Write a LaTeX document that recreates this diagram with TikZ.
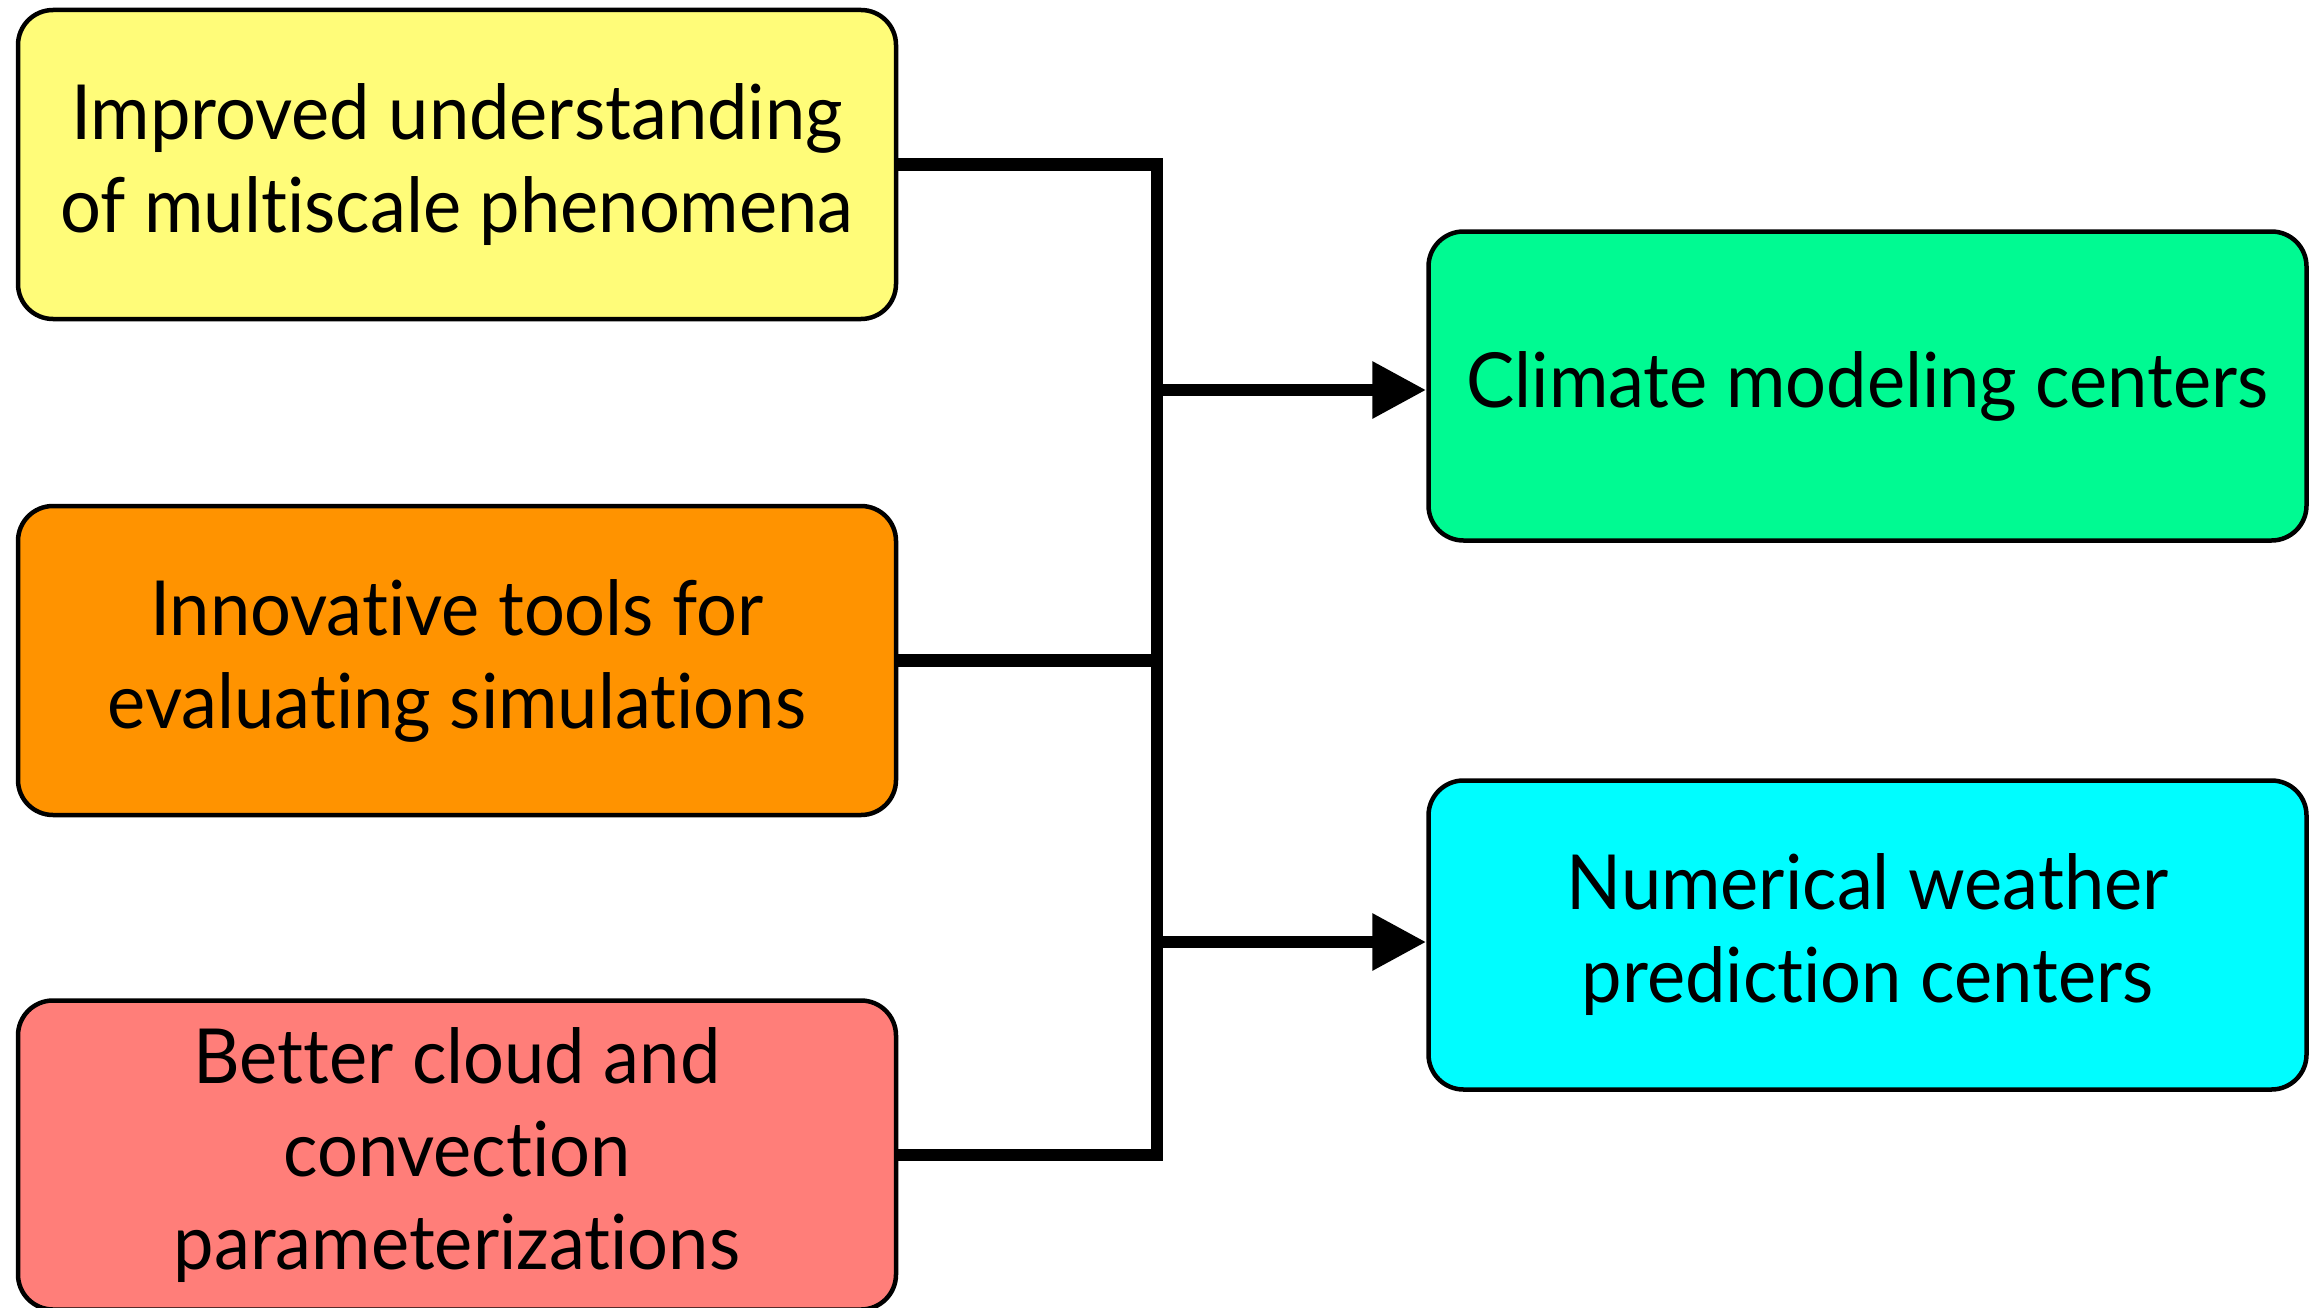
\documentclass[tikz,border=0pt]{standalone}
\usepackage{fontspec}
\setmainfont[Ligatures=NoCommon, FakeStretch=0.95]{Lato}
\usetikzlibrary{arrows.meta}
\definecolor{banana}{HTML}{FFFC79}
\definecolor{tangerine}{HTML}{FF9300}
\definecolor{salmon}{HTML}{FF7E79}
\definecolor{seafoam}{HTML}{00FA92}
\definecolor{turquoise}{HTML}{00FDFF}
\begin{document}
\begin{tikzpicture}[x=1pt,y=-1pt,
  box/.style={draw=black, line width=4.5pt, rounded corners=35pt,
    minimum width=878pt, minimum height=309pt, inner sep=0pt,
    align=center, font=\fontsize{76}{93}\selectfont},
  bus/.style={line width=12.5pt, line join=miter, line cap=butt},
  arr/.style={bus, -{Triangle[length=54pt,width=54pt]}}]
\useasboundingbox (0,0) rectangle (2314,1308);
\fill[white] (0,0) rectangle (2314,1308);
\node[box, fill=banana] (imp) at (457,164.5) {Improved understanding\\of multiscale phenomena};
\node[box, fill=tangerine] (tools) at (457,660.5) {Innovative tools for\\evaluating simulations};
\node[box, fill=salmon] (cloud) at (457,1155) {Better cloud and\\convection\\parameterizations};
\node[box, fill=seafoam] (clim) at (1867.5,386) {Climate modeling centers};
\node[box, fill=turquoise] (nwp) at (1867.5,935) {Numerical weather\\prediction centers};
\coordinate (busx) at (1157,0);
\coordinate (j1) at (1157,390);
\coordinate (j2) at (1157,942);
\draw[bus] (imp.east) -- (imp.east -| busx) -- (cloud.east -| busx) -- (cloud.east);
\draw[bus] (tools.east) -- (tools.east -| busx);
\draw[arr] (j1) -- (j1 -| clim.west);
\draw[arr] (j2) -- (j2 -| nwp.west);
\end{tikzpicture}
\end{document}
